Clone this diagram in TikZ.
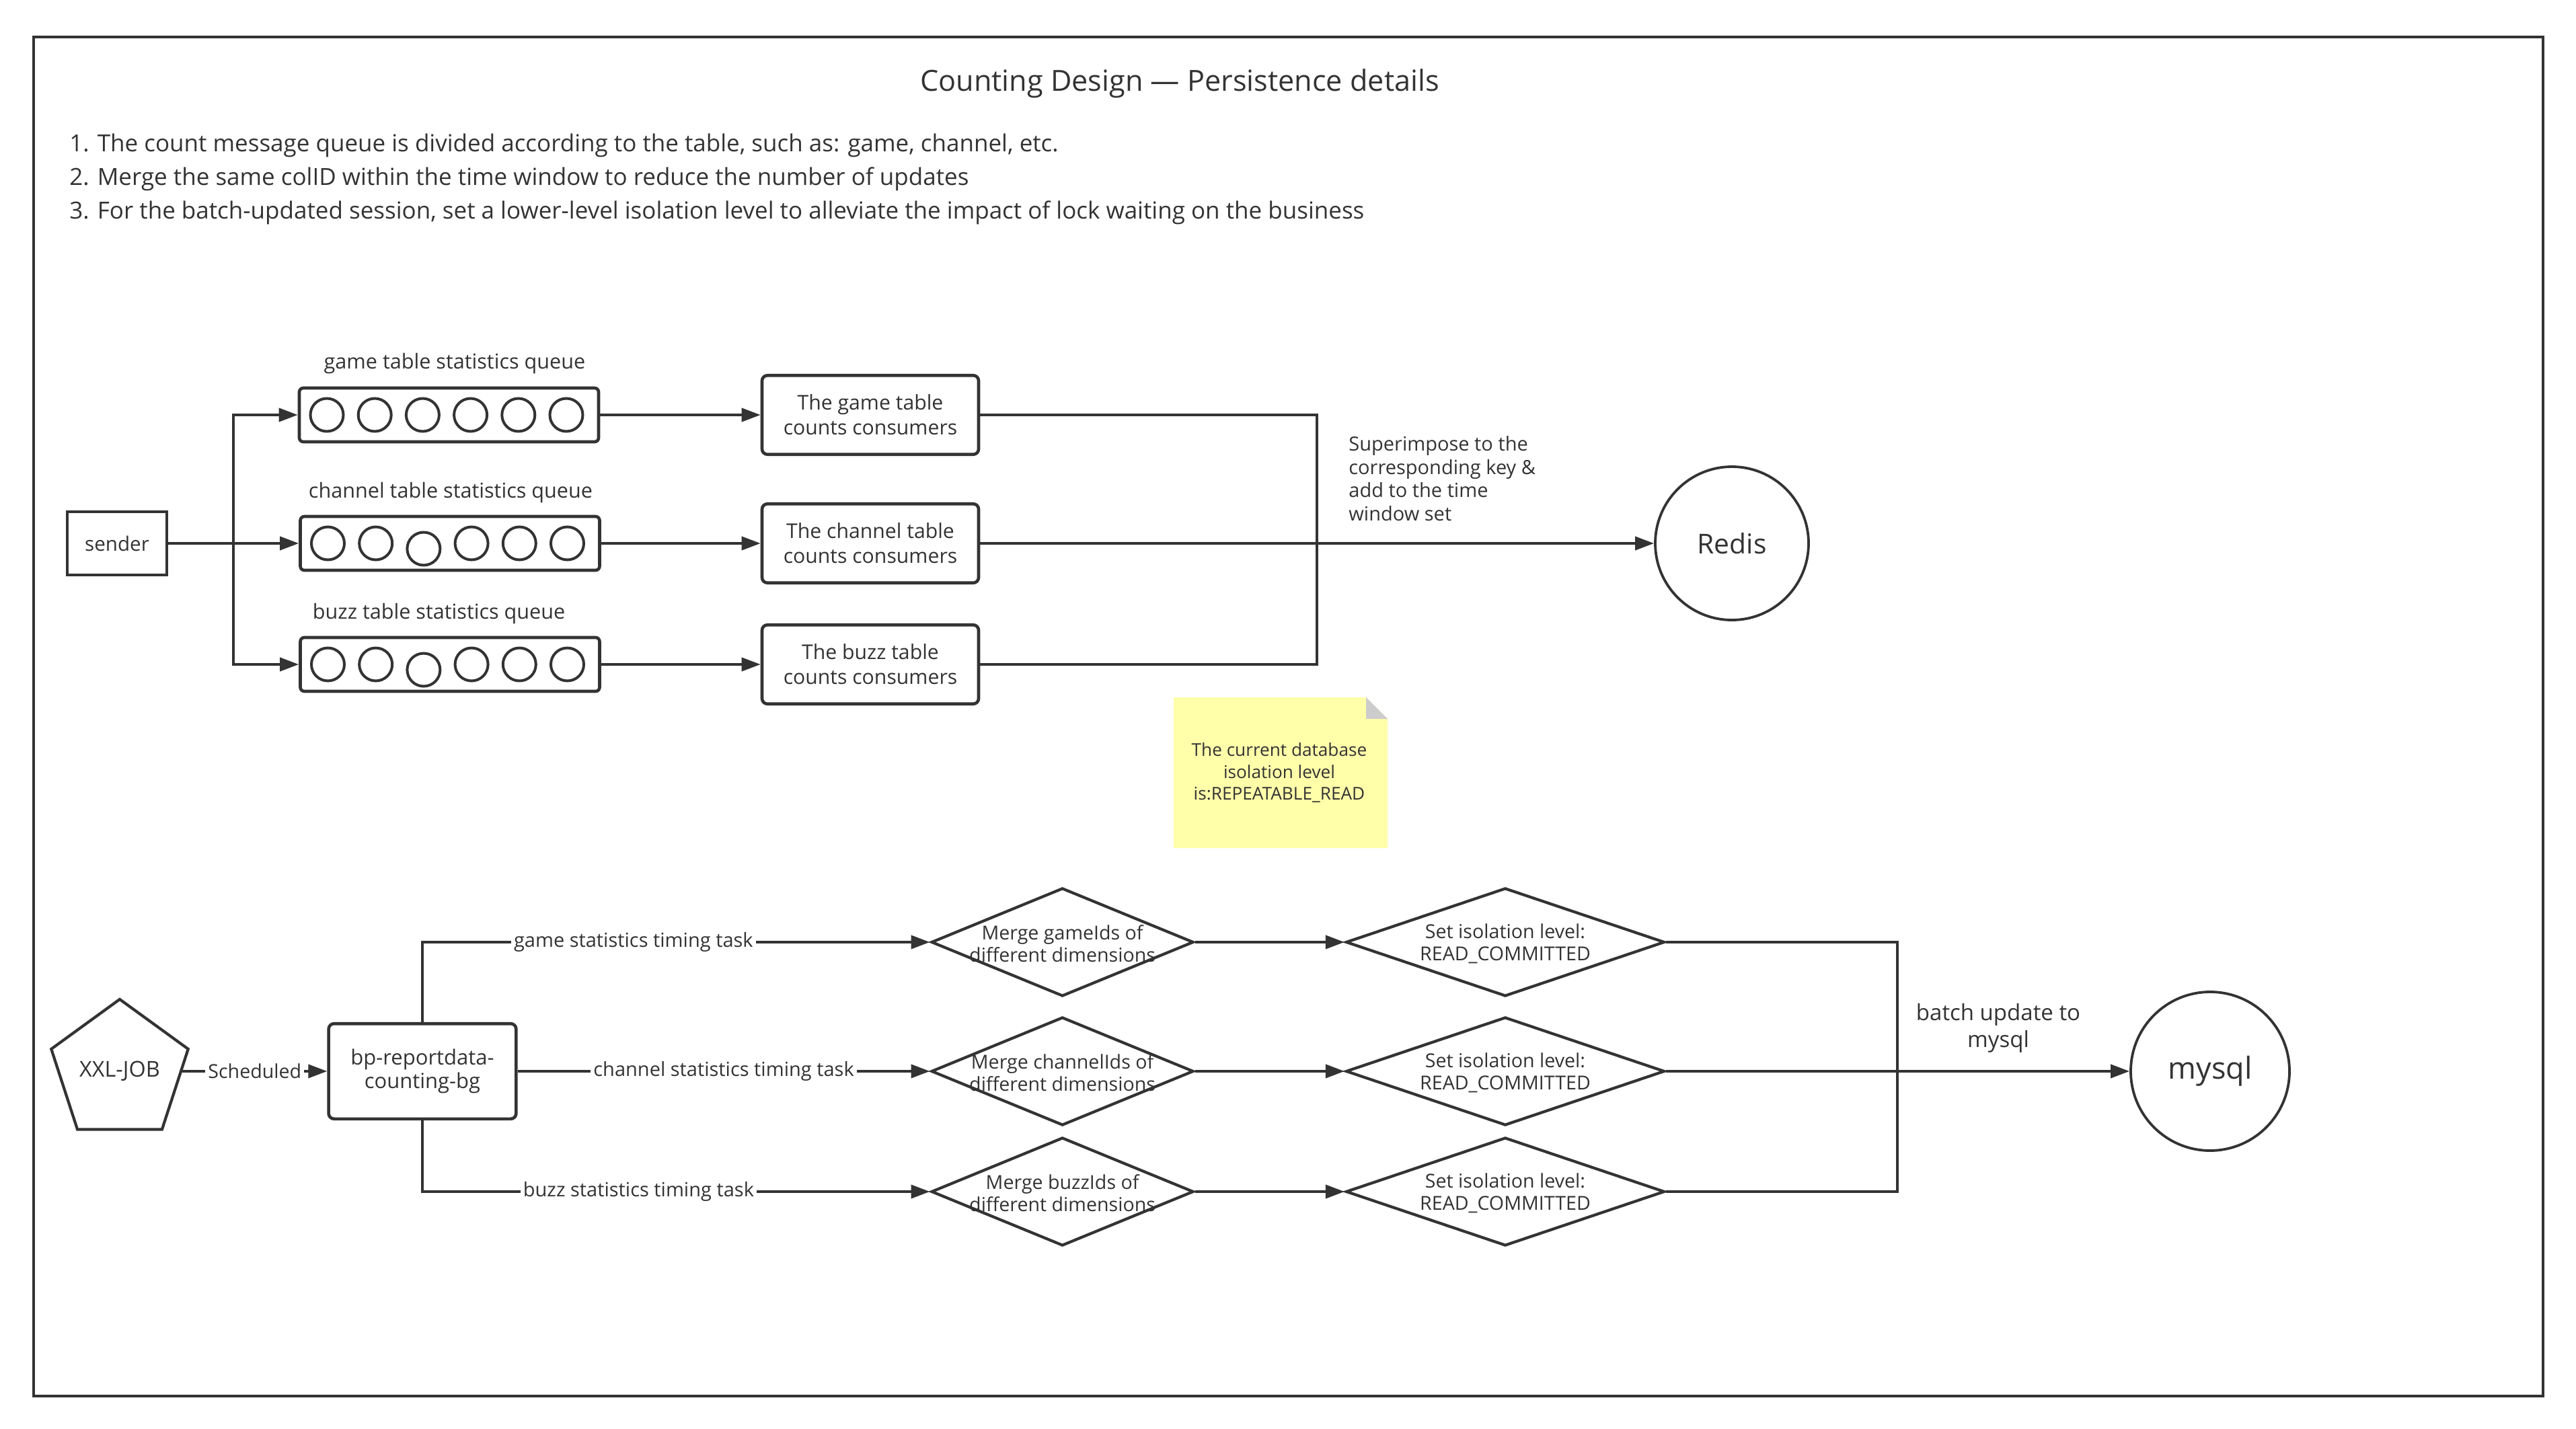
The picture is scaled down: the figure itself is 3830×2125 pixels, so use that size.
\documentclass[tikz,border=0pt]{standalone}
\usepackage{fontspec}
\setmainfont{Open Sans}
\usetikzlibrary{arrows.meta,shapes.geometric,calc}
\definecolor{ink}{HTML}{333333}
\definecolor{notey}{HTML}{FFFFAA}
\definecolor{foldg}{HTML}{CCCCCC}
\newcommand{\fsz}[2]{\fontsize{#1pt}{#2pt}\selectfont}
\begin{document}
\begin{tikzpicture}[x=0.5pt,y=-0.5pt,
  every node/.style={text=ink, inner sep=0pt},
  conn/.style={draw=ink, line width=1.9pt},
  arr/.style={conn, -{Triangle[length=14pt,width=10pt]}},
  sqbox/.style={draw=ink, line width=2.3pt, align=center},
  queue/.style={draw=ink, line width=2.3pt, rounded corners=3pt, minimum width=222.5pt, minimum height=40pt},
  qcirc/.style={draw=ink, line width=2pt},
  qlabel/.style={font=\fsz{15.3}{18}},
  cons/.style={draw=ink, line width=2.3pt, rounded corners=4pt, minimum width=161pt, minimum height=58.75pt, align=center, font=\fsz{15.1}{18.35}},
  dbcirc/.style={circle, draw=ink, line width=1.9pt},
  mdia/.style={diamond, draw=ink, line width=2.1pt, minimum width=195pt, minimum height=80.5pt},
  sdia/.style={diamond, draw=ink, line width=2.1pt, minimum width=237pt, minimum height=80.5pt},
  dtext/.style={align=center, font=\fsz{14.3}{16.6}},
  elabel/.style={fill=white, inner xsep=2pt, inner ysep=1pt, font=\fsz{14.5}{17}},
  body/.style={anchor=base west, font=\fsz{17.5}{21}}
]
% background / bounding box
\fill[white] (0,0) rectangle (3830,2125);
\draw[ink, line width=2pt] (50,55) rectangle (3781,2076);

% title and notes
\node[anchor=base, font=\fsz{21.6}{26}] (title) at (1754,135) {Counting Design — Persistence details};
\node[body] (l1) at (103,226) {1. The count message queue is divided according to the table, such as: game, channel, etc.};
\node[body] (l2) at (103,275) {2. Merge the same colID within the time window to reduce the number of updates};
\node[body] (l3) at (103,325) {3. For the batch-updated session, set a lower-level isolation level to alleviate the impact of lock waiting on the business};

% upper section
\node[sqbox, minimum width=74pt, minimum height=47pt, font=\fsz{14.8}{18}] (sender) at (174,808) {sender};

\node[queue] (q1) at (667.5,617) {};
\node[queue] (q2) at (669,808) {};
\node[queue] (q3) at (669,988) {};
\foreach \q/\d in {q1/0,q2/8,q3/8}{
  \foreach \i in {0,...,5}{
    \pgfmathsetmacro\dy{\i==2 ? \d : 0}
    \draw[qcirc] ($(\q.center)+(-181.5+71.2*\i,\dy)$) circle[radius=12.25pt];
  }
}
\node[qlabel] (q1l) at (676,541) {game table statistics queue};
\node[qlabel] (q2l) at (670,732.6) {channel table statistics queue};
\node[qlabel] (q3l) at (652.6,912.5) {buzz table statistics queue};

\node[cons] (c1) at (1294,617) {The game table\\counts consumers};
\node[cons] (c2) at (1294,808) {The channel table\\counts consumers};
\node[cons] (c3) at (1294,988) {The buzz table\\counts consumers};

\node[dbcirc, minimum size=114pt, font=\fsz{20.4}{24}] (redis) at (2575,808) {Redis};

\coordinate (st) at (347,808);
\draw[arr] (sender) -- (q2);
\draw[arr] (st) |- (q1.west);
\draw[arr] (st) |- (q3.west);
\draw[arr] (q1) -- (c1);
\draw[arr] (q2) -- (c2);
\draw[arr] (q3) -- (c3);
\coordinate (rj) at (1958,808);
\draw[conn] (c1.east) -| (rj);
\draw[conn] (c3.east) -| (rj);
\draw[arr] (c2) -- (redis);
\node[anchor=west, align=left, font=\fsz{14.5}{17.25}] (sup) at (2005,711.5) {Superimpose to the\\corresponding key \&\\add to the time\\window set};

% sticky note
\fill[notey] (1745,1037) -- (2031,1037) -- (2063,1069) -- (2063,1261) -- (1745,1261) -- cycle;
\fill[foldg] (2031,1037) -- (2063,1069) -- (2031,1069) -- cycle;
\node[align=center, font=\fsz{13.1}{16.25}] (note) at (1902,1149.5) {The current database\\isolation level\\is:REPEATABLE\_READ};

% lower section
\node[regular polygon, regular polygon sides=5, draw=ink, line width=2.1pt, minimum size=107pt, font=\fsz{16.2}{20}] (xxl) at (178,1593) {XXL-JOB};
\node[draw=ink, line width=2.3pt, rounded corners=4pt, minimum width=139.35pt, minimum height=70.8pt, align=center, font=\fsz{15.5}{17.7}] (bp) at (628,1593) {bp-reportdata-\\counting-bg};
\draw[arr] (xxl) -- (bp) node[elabel, midway, font=\fsz{14.3}{17}] {Scheduled};

\node[mdia] (m1) at (1579.6,1401) {};
\node[mdia] (m2) at (1579.6,1593) {};
\node[mdia] (m3) at (1579.6,1772) {};
\node[sdia] (s1) at (2238,1401) {};
\node[sdia] (s2) at (2238,1593) {};
\node[sdia] (s3) at (2238,1772) {};
\node[dtext] (m1t) at (1579.6,1403) {Merge gameIds of\\different dimensions};
\node[dtext] (m2t) at (1579.6,1595) {Merge channelIds of\\different dimensions};
\node[dtext] (m3t) at (1579.6,1774) {Merge buzzIds of\\different dimensions};
\node[dtext] (s1t) at (2238,1403) {Set isolation level:\\READ\_COMMITTED};
\node[dtext] (s2t) at (2238,1595) {Set isolation level:\\READ\_COMMITTED};
\node[dtext] (s3t) at (2238,1774) {Set isolation level:\\READ\_COMMITTED};

\draw[arr] (bp.north) |- (m1.west) node[elabel, pos=0.708] {game statistics timing task};
\draw[arr] (bp.east) -- (m2.west) node[elabel, midway] {channel statistics timing task};
\draw[arr] (bp.south) |- (m3.west) node[elabel, pos=0.713] {buzz statistics timing task};
\draw[arr] (m1) -- (s1);
\draw[arr] (m2) -- (s2);
\draw[arr] (m3) -- (s3);

\node[dbcirc, minimum size=118pt, font=\fsz{22.5}{26}] (mysql) at (3286,1593) {mysql};
\coordinate (mj) at (2821,1593);
\draw[conn] (s1.east) -| (mj);
\draw[conn] (s3.east) -| (mj);
\draw[arr] (s2) -- (mysql);
\node[align=center, font=\fsz{16.5}{20}] (batch) at (2971,1528.7) {batch update to\\mysql};
\end{tikzpicture}
\end{document}
